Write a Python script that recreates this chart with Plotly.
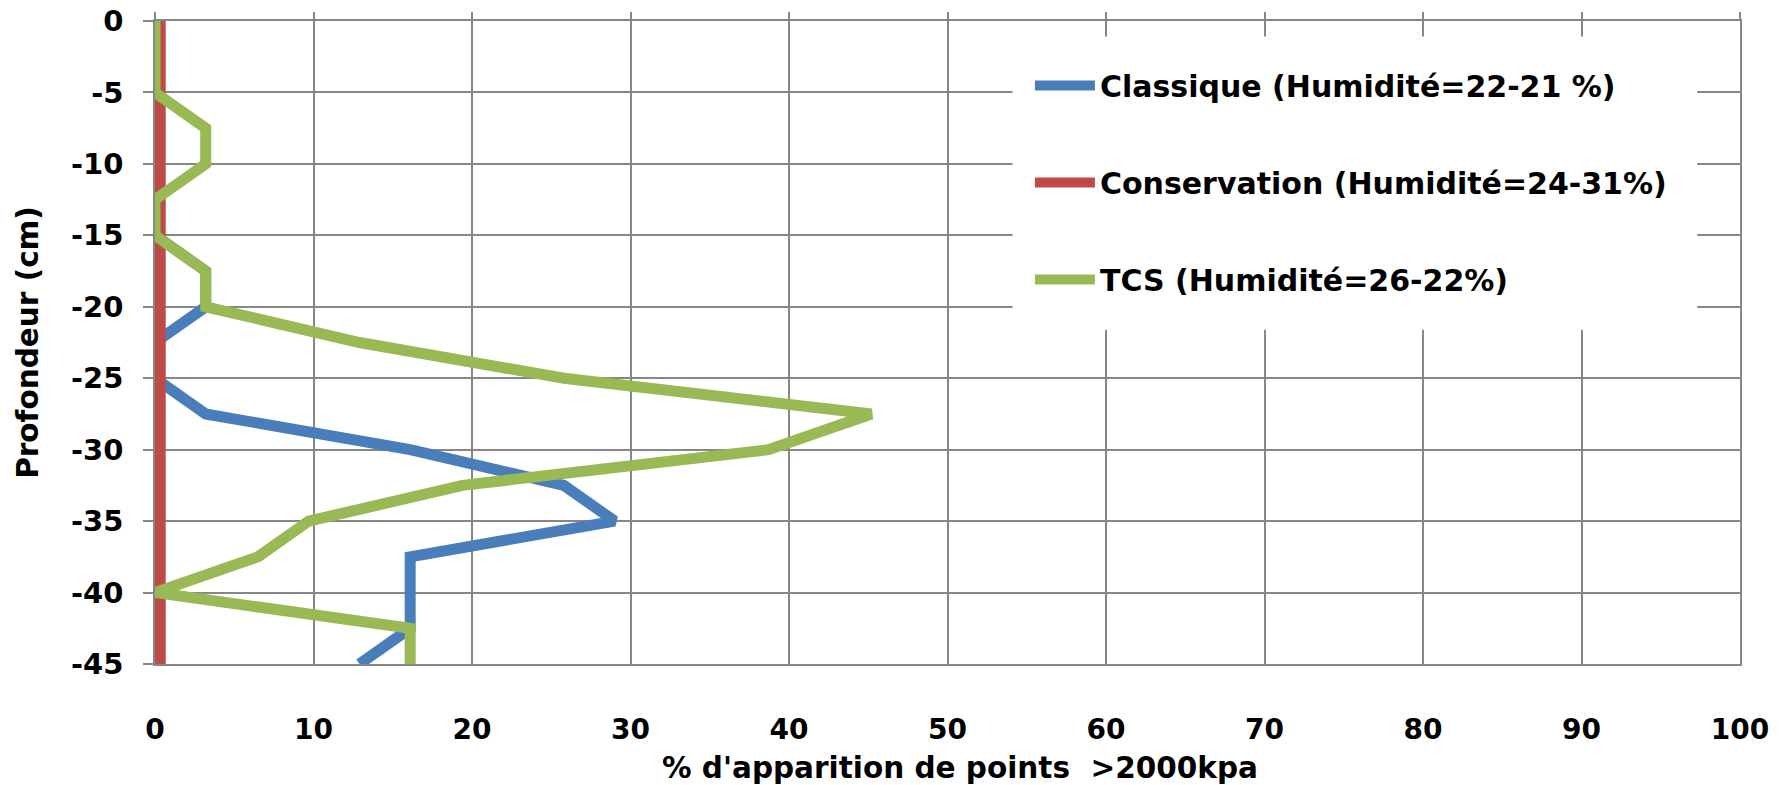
import plotly.graph_objects as go

# ---- data ----
depth = [0, -2.5, -5, -7.5, -10, -12.5, -15, -17.5, -20, -22.5, -25,
         -27.5, -30, -32.5, -35, -37.5, -40, -42.5, -45]
classique = [0, 0, 0, 0, 0, 0, 0, 3.2, 3.2, 0, 0,
             3.2, 16.1, 25.8, 29.0, 16.1, 16.1, 16.1, 12.9]
conservation = [0.33, 0.33, 0.33, 0.33, 0.33, 0.33, 0.33, 0.33, 0.33, 0.33, 0.33,
                0.33, 0.33, 0.33, 0.33, 0.33, 0.33, 0.33, 0.33]
tcs = [0, 0, 0, 3.2, 3.2, 0, 0, 3.2, 3.2, 12.9, 25.8,
       45.2, 38.7, 19.4, 9.7, 6.5, 0, 16.1, 16.1]

series_names = ["Classique (Humidité=22-21 %)",
                "Conservation (Humidité=24-31%)",
                "TCS (Humidité=26-22%)"]
series_colors = ["#4A7EBB", "#BE4B48", "#98B954"]
x_ticks = [0, 10, 20, 30, 40, 50, 60, 70, 80, 90, 100]
y_ticks = [0, -5, -10, -15, -20, -25, -30, -35, -40, -45]
y_tick_labels = ["0", "-5", "-10", "-15", "-20", "-25", "-30", "-35", "-40", "-45"]
x_title = "% d'apparition de points \u00a0>2000kpa"
y_title = "Profondeur (cm)"

FONT = "DejaVu Sans"
GRID = "#878787"

fig = go.Figure()
for name, xs, col in zip(series_names, [classique, conservation, tcs], series_colors):
    fig.add_trace(go.Scatter(
        x=xs, y=depth, mode="lines", name=name, legendgroup=name,
        line=dict(color=col, width=11),
    ))
# empty trace to activate the top (tick-only) axis
fig.add_trace(go.Scatter(x=[], y=[], xaxis="x2", showlegend=False, hoverinfo="skip"))

fig.update_layout(
    width=1791, height=785,
    margin=dict(l=155, r=51, t=21, b=121),
    paper_bgcolor="white", plot_bgcolor="white",
    font=dict(family=FONT, color="black", size=28, weight="bold"),
    xaxis=dict(
        range=[0, 100], tickvals=x_ticks, showgrid=True, gridcolor=GRID, gridwidth=1.5,
        zeroline=False, showline=True, linecolor=GRID, linewidth=1.5, mirror=True,
        ticks="", tickfont=dict(size=28, family=FONT, weight="bold"),
        ticklabelstandoff=40,
        automargin=False,
    ),
    xaxis2=dict(
        range=[0, 100], tickvals=x_ticks, overlaying="x", side="top",
        showgrid=False, zeroline=False, showline=False, showticklabels=False,
        ticks="outside", ticklen=8, tickwidth=1.5, tickcolor=GRID,
    ),
    yaxis=dict(
        range=[-45, 0], tickvals=y_ticks, ticktext=y_tick_labels,
        showgrid=True, gridcolor=GRID, gridwidth=1.5,
        zeroline=False, showline=True, linecolor=GRID, linewidth=1.5, mirror=True,
        ticks="outside", ticklen=10, tickwidth=1.5, tickcolor=GRID,
        tickfont=dict(size=29, family=FONT, weight="bold"),
        ticklabelstandoff=14,
        title=dict(text=y_title, font=dict(size=29.5, family=FONT, weight="bold"), standoff=24),
        automargin=False,
    ),
    legend=dict(
        x=0.552, y=0.94, xanchor="left", yanchor="top",
        bgcolor="rgba(0,0,0,0)", borderwidth=0,
        font=dict(size=30, family=FONT, weight="bold"),
        tracegroupgap=55, itemwidth=60,
    ),
    shapes=[dict(type="rect", xref="paper", yref="paper",
                 x0=0.541, x1=0.973, y0=0.520, y1=0.976,
                 fillcolor="white", line=dict(width=0), layer="above")],
    annotations=[dict(text=x_title, xref="paper", yref="paper", x=0.508, y=-0.1617,
                      xanchor="center", yanchor="middle", showarrow=False,
                      font=dict(size=29.5, family=FONT, weight="bold", color="black"))],
)

fig.write_html("out.html")
